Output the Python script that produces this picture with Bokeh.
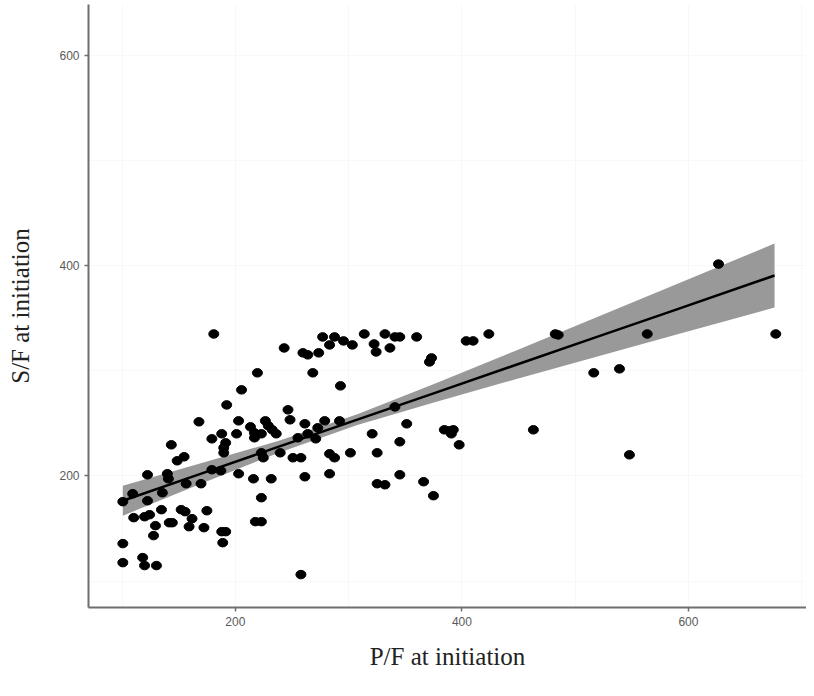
from bokeh.plotting import figure
from bokeh.models import Range1d, FixedTicker
from bokeh.embed import file_html
from bokeh.resources import INLINE

# P/F at initiation (x) and S/F at initiation (y)
pf = [100.7, 100.7, 100.7, 109.4, 110.3, 118.2, 119.9, 119.9, 124.3, 122.5,
      122.5, 127.8, 129.5, 130.4, 134.8, 135.6, 140.0, 140.9, 141.7, 144.4,
      143.5, 148.7, 154.8, 152.2, 155.7, 156.6, 159.2, 161.8, 167.9, 169.7,
      172.3, 174.9, 179.3, 179.3, 187.2, 188.0, 191.5, 189.8, 189.8, 192.4,
      181.0, 205.5, 219.5, 201.1, 202.9, 202.9, 188.0, 191.5, 188.9, 213.4,
      216.9, 216.9, 223.0, 226.5, 229.1, 232.6, 236.1, 223.0, 224.7, 216.0,
      231.7, 223.0, 217.7, 223.0, 246.5, 248.3, 243.1, 259.7, 264.0, 273.6,
      268.4, 239.6, 250.9, 257.9, 261.4, 264.0, 255.3, 271.0, 272.8, 278.9,
      261.4, 257.9, 277.1, 287.6, 295.5, 303.3, 283.2, 313.8, 292.8, 292.0,
      283.2, 287.6, 301.6, 283.2, 332.1, 340.9, 345.2, 360.1, 322.5, 324.3,
      336.5, 373.2, 371.4, 340.9, 351.3, 320.8, 345.2, 325.2, 345.2, 325.2,
      332.1, 366.2, 374.9, 403.8, 409.9, 423.8, 482.4, 485.0, 563.6, 677.1,
      626.5, 516.4, 539.1, 384.5, 388.9, 390.7, 392.4, 397.6, 463.1, 547.9]

sf = [175.5, 135.6, 117.5, 183.1, 160.3, 122.3, 114.7, 161.2, 163.1, 201.1,
      176.4, 143.2, 152.7, 114.7, 167.9, 184.0, 202.1, 197.3, 155.5, 155.5,
      229.6, 214.4, 218.2, 167.9, 166.0, 192.6, 151.7, 159.3, 251.5, 192.6,
      150.8, 166.9, 235.3, 205.9, 204.9, 240.1, 231.5, 226.8, 222.0, 267.6,
      335.1, 281.9, 298.1, 240.1, 252.4, 202.1, 147.0, 147.0, 136.5, 246.7,
      241.0, 236.3, 240.1, 252.4, 247.7, 243.9, 240.1, 222.0, 217.3, 197.3,
      197.3, 179.3, 156.5, 156.5, 262.9, 253.4, 321.8, 317.1, 315.2, 317.1,
      298.1, 222.0, 217.3, 217.3, 249.6, 240.1, 236.3, 235.3, 245.8, 252.4,
      199.2, 106.1, 332.3, 332.3, 328.5, 324.7, 324.7, 335.1, 285.7, 252.4,
      221.1, 217.3, 222.0, 202.1, 335.1, 332.3, 332.3, 332.3, 325.6, 318.0,
      321.8, 312.3, 308.5, 265.7, 249.6, 240.1, 232.5, 222.0, 201.1, 192.6,
      191.6, 194.5, 181.2, 328.5, 328.5, 335.1, 335.1, 334.2, 335.1, 335.1,
      401.6, 298.1, 301.9, 243.9, 242.9, 240.1, 243.9, 229.6, 243.9, 220.1]

# linear fit with confidence band
fit_x = [100.7, 168.0, 237.8, 307.7, 377.6, 447.4, 517.3, 587.2, 676.0]
fit_y = [176.4, 201.5, 227.6, 253.6, 279.5, 305.6, 331.6, 357.6, 390.7]
fit_lo = [162.2, 191.9, 221.9, 248.4, 270.7, 292.0, 313.0, 333.8, 360.3]
fit_hi = [190.7, 211.6, 233.3, 258.8, 288.4, 319.1, 350.2, 381.5, 421.1]

x_ticks = [200, 400, 600]
y_ticks = [200, 400, 600]
grid_ticks = [100, 200, 300, 400, 500, 600, 700]

x_title = "P/F at initiation"
y_title = "S/F at initiation"

p = figure(width=806, height=688,
           x_range=Range1d(70.4, 704.2), y_range=Range1d(74.8, 648.6),
           output_backend="svg", toolbar_location=None,
           min_border_left=88, min_border_right=0,
           min_border_top=4, min_border_bottom=81)
p.outline_line_color = None
p.background_fill_color = "white"
p.border_fill_color = "white"

p.varea(x=fit_x, y1=fit_lo, y2=fit_hi, fill_color="#999999", fill_alpha=1.0)
p.ellipse(x=pf, y=sf, width=10, height=8.5, width_units="screen",
          height_units="screen", fill_color="black", line_color="black")
p.line(fit_x, fit_y, line_color="black", line_width=2.5)

for ax, ticks in ((p.xaxis, x_ticks), (p.yaxis, y_ticks)):
    ax.ticker = FixedTicker(ticks=ticks)
    ax.axis_line_color = "#6f6f6f"
    ax.axis_line_width = 2
    ax.major_tick_line_color = "#6f6f6f"
    ax.major_tick_line_width = 1.5
    ax.major_tick_out = 4
    ax.major_tick_in = 0
    ax.minor_tick_out = 0
    ax.minor_tick_in = 0
    ax.major_label_text_color = "#5a5a5a"
    ax.major_label_text_font = "Liberation Sans"
    ax.major_label_text_font_size = "12px"
    ax.major_label_standoff = 5
    ax.axis_label_text_font = "Liberation Serif"
    ax.axis_label_text_font_size = "25px"
    ax.axis_label_text_font_style = "normal"
    ax.axis_label_text_color = "#222222"

p.xaxis.axis_label = x_title
p.xaxis.axis_label_standoff = 14
p.yaxis.axis_label = y_title
p.yaxis.axis_label_standoff = 22

for g in (p.xgrid, p.ygrid):
    g.ticker = FixedTicker(ticks=grid_ticks)
    g.grid_line_color = "#f8f8f8"
    g.grid_line_width = 1

open("out.html", "w").write(file_html(p, INLINE))
